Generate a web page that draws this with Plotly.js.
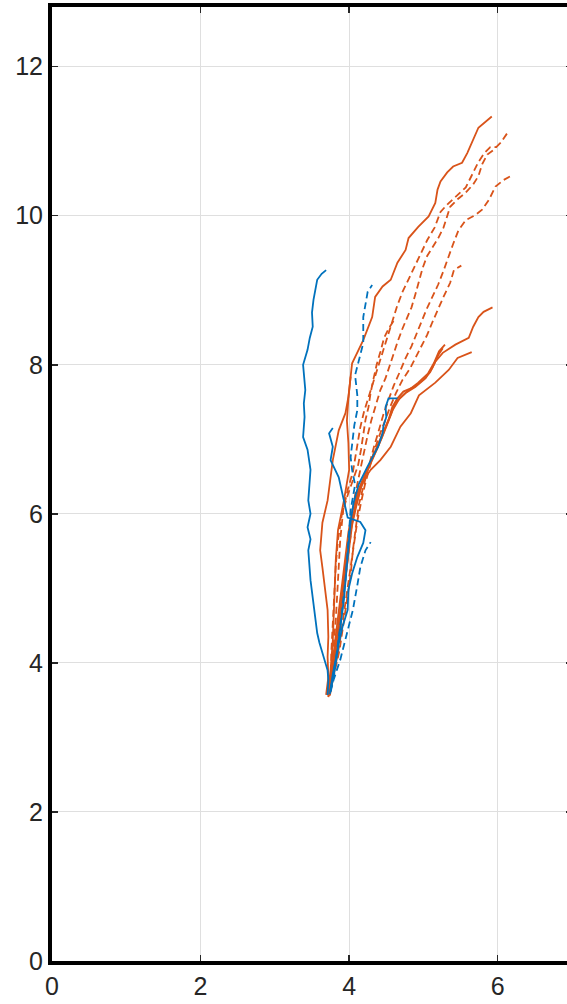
<!DOCTYPE html>
<html><head><meta charset="utf-8">
<script src="https://cdn.plot.ly/plotly-3.0.1.min.js"></script>
<style>html,body{margin:0;padding:0;overflow:hidden;background:#fff;}#chart{width:600px;height:1004px;}</style>
</head><body><div id="chart"></div>
<script>
// ---- data ----
const xTicks = [0, 2, 4, 6];
const yTicks = [0, 2, 4, 6, 8, 10, 12];

// blue, solid
const blueA_x = [3.71,3.72,3.71,3.64,3.60,3.57,3.52,3.50,3.48,3.45,3.48,3.46,3.44,3.48,3.45,3.48,3.44,3.38,3.40,3.39,3.41,3.38,3.44,3.47,3.51,3.50,3.52,3.57,3.63,3.69];
const blueA_y = [3.57,3.77,3.90,4.13,4.27,4.40,4.84,4.98,5.11,5.51,5.66,5.74,5.82,6.00,6.18,6.59,6.86,7.03,7.30,7.48,7.66,8.00,8.20,8.36,8.51,8.70,8.87,9.14,9.22,9.27];
const blueB_x = [3.75,3.79,3.82,3.86,3.91,3.98,3.99,4.04,4.11,4.19,4.22,4.15,3.98,3.92,3.86,3.75,3.78,3.73,3.78];
const blueB_y = [3.63,3.81,4.00,4.26,4.48,4.71,4.98,5.20,5.42,5.61,5.78,5.89,5.95,6.22,6.49,6.72,6.90,7.08,7.15];
const blueC_x = [3.74,3.78,3.84,3.89,3.93,3.96,3.99,4.02,4.06,4.13,4.24,4.39,4.45,4.46,4.50,4.49,4.53,4.65];
const blueC_y = [3.58,3.85,4.15,4.50,4.85,5.20,5.55,5.90,6.15,6.40,6.62,6.90,7.08,7.17,7.30,7.43,7.55,7.55];
// blue, dashed
const blueE_x = [3.75,3.82,3.89,3.95,3.99,4.02,4.08,4.04,4.02,4.04,4.07,4.11,4.11,4.08,4.13,4.19,4.19,4.25,4.31];
const blueE_y = [3.63,4.04,4.57,5.11,5.65,6.05,6.39,6.59,6.76,6.95,7.19,7.39,7.59,7.86,8.06,8.29,8.64,8.98,9.07];
const blueF_x = [3.75,3.79,3.88,3.96,4.05,4.11,4.15,4.22,4.29];
const blueF_y = [3.61,3.77,4.04,4.37,4.71,5.04,5.28,5.51,5.62];

// orange, solid
const orO1_x = [3.69,3.72,3.71,3.72,3.71,3.68,3.64,3.61,3.64,3.71,3.75,3.78,3.86,3.95,3.99,4.02,4.04,4.19,4.31,4.35,4.45,4.56,4.65,4.76,4.80,4.93,5.07,5.16,5.19,5.23,5.32,5.40,5.52,5.59,5.67,5.74,5.92];
const orO1_y = [3.57,3.81,4.08,4.35,4.71,4.98,5.28,5.51,5.88,6.18,6.49,6.72,7.12,7.35,7.57,7.84,8.02,8.33,8.64,8.91,9.05,9.14,9.37,9.54,9.70,9.85,9.99,10.17,10.35,10.46,10.58,10.66,10.71,10.84,11.02,11.18,11.33];
const orO5_x = [3.71,3.75,3.78,3.80,3.82,3.85,3.93,4.00,3.99,3.97,3.99,4.02];
const orO5_y = [3.57,3.90,4.30,4.84,5.38,5.78,6.18,6.59,6.95,7.25,7.55,7.84];
const orO2_x = [3.74,3.78,3.82,3.86,3.91,3.95,3.99,4.04,4.10,4.15,4.22,4.31,4.39,4.46,4.53,4.58,4.65,4.73,4.87,5.00,5.09,5.16,5.26,5.43,5.61,5.67,5.74,5.81,5.93];
const orO2_y = [3.59,3.83,4.10,4.44,4.84,5.18,5.51,5.85,6.12,6.32,6.52,6.72,6.90,7.08,7.26,7.43,7.55,7.64,7.70,7.80,7.90,8.04,8.16,8.27,8.36,8.51,8.64,8.71,8.77];
const orO3_x = [3.73,3.77,3.81,3.86,3.91,3.96,4.01,4.07,4.12,4.18,4.29,4.39,4.49,4.56,4.62,4.76,4.89,5.03,5.12,5.20,5.26];
const orO3_y = [3.56,3.85,4.15,4.55,4.95,5.35,5.70,6.05,6.30,6.45,6.70,6.92,7.15,7.33,7.49,7.62,7.70,7.82,7.96,8.13,8.22];
const orO3b_x = [3.72,3.76,3.80,3.85,3.90,3.94,3.99,4.05,4.14,4.24,4.34,4.44,4.52,4.59,4.68,4.80,4.93,5.06,5.14,5.21,5.29];
const orO3b_y = [3.55,3.88,4.20,4.60,5.00,5.40,5.75,6.08,6.35,6.58,6.80,7.02,7.22,7.40,7.55,7.66,7.76,7.88,8.02,8.18,8.27];
const orO4_x = [3.72,3.75,3.79,3.84,3.89,3.92,3.98,4.04,4.13,4.18,4.29,4.42,4.56,4.69,4.83,4.94,5.16,5.34,5.46,5.65];
const orO4_y = [3.54,3.70,3.97,4.30,4.71,5.11,5.51,5.92,6.25,6.43,6.59,6.72,6.90,7.17,7.35,7.59,7.76,7.93,8.09,8.17];

// orange, dashed
const orDa_x = [3.72,3.76,3.82,3.86,3.90,3.94,3.98,4.02,4.04,4.08,4.12,4.16,4.20,4.25,4.30,4.36,4.42,4.49,4.55,4.60,4.66,4.72,4.78,4.84,4.89,4.94,4.99,5.05,5.12,5.20,5.27,5.32,5.36,5.46,5.57,5.67,5.74,5.79,5.86,5.94,6.04,6.13];
const orDa_y = [3.57,3.83,4.10,4.37,4.71,5.04,5.38,5.71,5.98,6.25,6.45,6.65,6.86,7.06,7.26,7.46,7.66,7.82,8.00,8.17,8.33,8.49,8.63,8.77,8.94,9.14,9.30,9.46,9.57,9.70,9.84,9.99,10.12,10.22,10.31,10.42,10.53,10.69,10.82,10.88,10.98,11.11];
const orDb_x = [3.75,3.81,3.87,3.92,3.97,4.02,4.05,4.09,4.13,4.18,4.23,4.29,4.34,4.40,4.46,4.53,4.60,4.68,4.76,4.84,4.90,4.97,5.04,5.12,5.20,5.27,5.33,5.40,5.47,5.57,5.70,5.79,5.88,5.97,6.08,6.21];
const orDb_y = [3.63,3.90,4.17,4.50,4.84,5.18,5.51,5.85,6.12,6.32,6.52,6.72,6.92,7.12,7.33,7.53,7.72,7.90,8.09,8.25,8.40,8.57,8.74,8.91,9.08,9.26,9.44,9.62,9.80,9.94,10.01,10.08,10.21,10.39,10.48,10.55];
const orDc_x = [3.74,3.77,3.79,3.82,3.84,3.86,3.88,3.92,3.98,4.05,4.08,4.11,4.15,4.20,4.26,4.32,4.38,4.44,4.49,4.55,4.60,4.65,4.72,4.80,4.88,4.96,5.05,5.15,5.23,5.32,5.43,5.57,5.66,5.74,5.82,5.90,5.98];
const orDc_y = [3.63,3.93,4.23,4.57,4.97,5.31,5.65,6.05,6.32,6.56,6.76,6.96,7.16,7.37,7.56,7.76,7.93,8.12,8.30,8.47,8.63,8.80,8.98,9.15,9.33,9.50,9.67,9.84,10.05,10.15,10.25,10.38,10.56,10.72,10.84,10.92,10.92];
const orDd_x = [3.74,3.77,3.82,3.87,3.92,3.97,4.02,4.06,4.11,4.16,4.21,4.27,4.33,4.40,4.47,4.55,4.63,4.72,4.82,4.90,4.98,5.05,5.12,5.19,5.27,5.36,5.41,5.51];
const orDd_y = [3.56,3.72,3.95,4.25,4.60,4.95,5.30,5.60,5.90,6.15,6.38,6.60,6.82,7.03,7.23,7.43,7.62,7.80,7.95,8.10,8.25,8.40,8.57,8.74,8.91,9.10,9.27,9.33];
const orDe_x = [3.72,3.76,3.76,3.78,3.80,3.82,3.85,3.90,3.97,4.05,4.12,4.16,4.19,4.22,4.26,4.29,4.33,4.37,4.42,4.47,4.54,4.62];
const orDe_y = [3.59,3.83,4.14,4.50,4.91,5.31,5.65,5.98,6.22,6.45,6.65,6.86,7.06,7.26,7.43,7.63,7.82,8.00,8.17,8.36,8.50,8.62];

// ---- drawing ----
const BLUE = '#0072BD', ORANGE = '#D95319';
const LW = 1.8;
const DASH = '7px,4px';
function tr(x, y, color, dashed) {
  return {x: x, y: y, type: 'scatter', mode: 'lines', hoverinfo: 'skip',
    line: {color: color, width: LW, dash: dashed ? DASH : 'solid'}};
}
const traces = [
  tr(orO1_x, orO1_y, ORANGE, false),
  tr(orO5_x, orO5_y, ORANGE, false),
  tr(orO2_x, orO2_y, ORANGE, false),
  tr(orO3_x, orO3_y, ORANGE, false),
  tr(orO3b_x, orO3b_y, ORANGE, false),
  tr(orO4_x, orO4_y, ORANGE, false),
  tr(orDa_x, orDa_y, ORANGE, true),
  tr(orDb_x, orDb_y, ORANGE, true),
  tr(orDc_x, orDc_y, ORANGE, true),
  tr(orDd_x, orDd_y, ORANGE, true),
  tr(orDe_x, orDe_y, ORANGE, true),
  tr(blueA_x, blueA_y, BLUE, false),
  tr(blueB_x, blueB_y, BLUE, false),
  tr(blueC_x, blueC_y, BLUE, false),
  tr(blueE_x, blueE_y, BLUE, true),
  tr(blueF_x, blueF_y, BLUE, true)
];
const axCommon = {
  showline: true, linecolor: '#000', linewidth: 4, mirror: 'ticks',
  ticks: 'inside', ticklen: 6, tickwidth: 1.5, tickcolor: '#262626',
  showgrid: true, gridcolor: '#dfdfdf', gridwidth: 1, zeroline: false,
  tickfont: {family: 'Liberation Sans, Arial, sans-serif', size: 25, color: '#262626'}
};
const layout = {
  width: 600, height: 1004,
  margin: {l: 52, r: 28, t: 7, b: 43, pad: 0},
  paper_bgcolor: '#fff', plot_bgcolor: '#fff', showlegend: false,
  xaxis: Object.assign({}, axCommon, {range: [0, 7], tickvals: xTicks, ticktext: xTicks.map(String)}),
  yaxis: Object.assign({}, axCommon, {range: [0, 12.8], tickvals: yTicks, ticktext: yTicks.map(String)})
};
Plotly.newPlot('chart', traces, layout, {staticPlot: true, displayModeBar: false});
</script></body></html>
